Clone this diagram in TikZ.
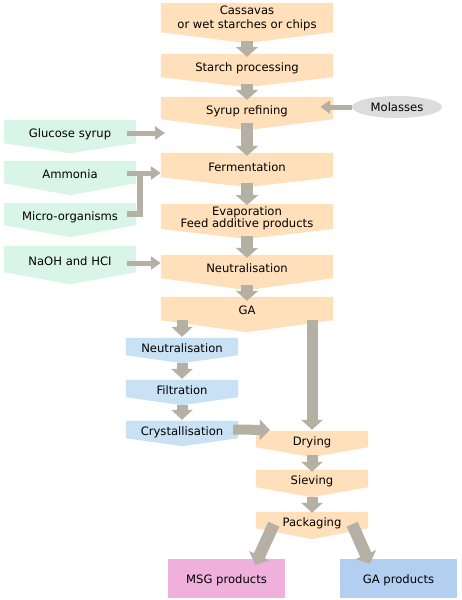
\documentclass[tikz,border=0pt]{standalone}
\usepackage{fontspec}
\setmainfont{DejaVu Sans}
\usetikzlibrary{arrows.meta,calc,shapes.geometric}
\pgfdeclarelayer{background}
\pgfsetlayers{background,main}
\definecolor{orng}{RGB}{255,224,186}
\definecolor{grn}{RGB}{216,245,231}
\definecolor{blu}{RGB}{201,225,245}
\definecolor{molgray}{RGB}{220,220,220}
\definecolor{arrgray}{RGB}{181,176,164}
\definecolor{msgpink}{RGB}{240,176,220}
\definecolor{gablue}{RGB}{178,206,240}
\newcommand{\chevbox}[3]{%
  \begin{pgfonlayer}{background}
    \fill[#3] (#1.north west) -- (#1.north east) -- (#1.south east) -- ($(#1.south)+(0,#2)$) -- (#1.south west) -- cycle;
  \end{pgfonlayer}}
\newcommand{\twoline}[3]{\raisebox{#3}[\height][\depth]{\begin{tabular}{@{}c@{}}#1\\#2\end{tabular}}}
\tikzset{
  boxbase/.style={inner sep=0pt, font=\fontsize{11.6}{14}\selectfont},
  boxnode/.style={boxbase, text height=12pt, text depth=0pt},
  mainbox/.style={boxnode, minimum width=172pt},
  mainboxtwo/.style={boxbase, minimum width=172pt},
  sidebox/.style={boxnode, minimum width=132pt},
  bluebox/.style={boxnode, minimum width=112pt},
  lowbox/.style={boxnode, minimum width=112pt},
  prodbox/.style={boxbase, text height=10pt, text depth=0pt, minimum width=117pt, minimum height=39pt},
  bigarr/.style={draw=arrgray, line width=12pt, -{Triangle[length=10pt,width=22pt]}},
  midarr/.style={draw=arrgray, line width=11pt, -{Triangle[length=10pt,width=21pt]}},
  smallarr/.style={draw=arrgray, line width=5pt, -{Triangle[length=10pt,width=13pt]}},
  smallline/.style={draw=arrgray, line width=6pt, line join=miter}
}
\begin{document}
\begin{tikzpicture}[x=1pt,y=-1pt]
\useasboundingbox (0,0) rectangle (461,600);
% main column
\node[mainboxtwo, minimum height=29pt, font=\fontsize{11.6}{13.5}\selectfont] (cass) at (247,17.5) {\twoline{Cassavas}{or wet starches or chips}{-1.5pt}};
\node[mainbox, minimum height=23pt] (starch) at (247,65.5) {Starch processing};
\node[mainbox, minimum height=22pt] (syrup) at (247,108) {Syrup refining};
\node[mainbox, minimum height=24pt] (ferm) at (247,165) {Fermentation};
\node[mainboxtwo, minimum height=23pt, font=\fontsize{11.6}{11.5}\selectfont] (evap) at (247,216.5) {\twoline{Evaporation}{Feed additive products}{-2.6pt}};
\node[mainbox, minimum height=23pt] (neut) at (247,266.5) {Neutralisation};
\node[mainbox, minimum height=23pt] (ga) at (247,308.5) {GA};
\chevbox{cass}{11}{orng}
\chevbox{starch}{10}{orng}
\chevbox{syrup}{11}{orng}
\chevbox{ferm}{10}{orng}
\chevbox{evap}{10}{orng}
\chevbox{neut}{12}{orng}
\chevbox{ga}{12}{orng}
% side inputs
\node[sidebox, minimum height=23pt] (gluc) at (70,131.5) {Glucose syrup};
\node[sidebox, minimum height=22pt] (amm) at (70,172) {Ammonia};
\node[sidebox, minimum height=22pt] (micro) at (70,214) {Micro-organisms};
\node[sidebox, minimum height=26pt] (naoh) at (70,259) {NaOH and HCI};
\chevbox{gluc}{10}{grn}
\chevbox{amm}{12}{grn}
\chevbox{micro}{12}{grn}
\chevbox{naoh}{12}{grn}
\node[boxbase, text height=8pt, text depth=0pt, ellipse, fill=molgray, minimum width=90pt, minimum height=22pt] (mol) at (397,107) {Molasses};
% blue column
\node[bluebox, minimum height=17pt] (bneut) at (182,346.5) {Neutralisation};
\node[bluebox, minimum height=17pt] (filt) at (182,388.5) {Filtration};
\node[bluebox, minimum height=17pt] (cryst) at (182,429.5) {Crystallisation};
\chevbox{bneut}{8}{blu}
\chevbox{filt}{8}{blu}
\chevbox{cryst}{8}{blu}
% lower column
\node[lowbox, minimum height=16pt] (dry) at (312,439) {Drying};
\node[lowbox, minimum height=17pt] (siev) at (312,478.5) {Sieving};
\node[lowbox, minimum height=16pt] (pack) at (312,520) {Packaging};
\chevbox{dry}{10}{orng}
\chevbox{siev}{10}{orng}
\chevbox{pack}{11}{orng}
% products
\node[prodbox, fill=msgpink] (msg) at (226.5,578.5) {MSG products};
\node[prodbox, fill=gablue] (gaprod) at (398.5,578.5) {GA products};
% arrows main
\draw[bigarr] ($(cass.south)+(0,9)$) -- ($(starch.north)+(0,3)$);
\draw[bigarr] ($(starch.south)+(0,7)$) -- ($(syrup.north)+(0,3)$);
\draw[bigarr] ($(syrup.south)+(0,4)$) -- ($(ferm.north)+(0,3)$);
\draw[bigarr] ($(ferm.south)+(0,6)$) -- ($(evap.north)+(0,1)$);
\draw[bigarr] ($(evap.south)+(0,7)$) -- ($(neut.north)+(0,3)$);
\draw[bigarr] ($(neut.south)+(0,7)$) -- ($(ga.north)+(0,4)$);
\draw[midarr] (bneut.north |- ga.south) -- ($(bneut.north)+(0,-1)$);
\draw[midarr] (dry.north |- ga.south) -- ($(dry.north)+(0,-1)$);
\draw[midarr] ($(bneut.south)+(0,8)$) -- ($(filt.north)+(0,-1)$);
\draw[midarr] ($(filt.south)+(0,8)$) -- ($(cryst.north)+(0,-1)$);
\draw[draw=arrgray, line width=10pt, -{Triangle[length=10pt,width=20pt]}] ($(cryst.east)+(-5,0)$) -- ($(dry.west)+(14,-9)$);
\draw[midarr] ($(dry.south)+(0,8)$) -- ($(siev.north)+(0,2)$);
\draw[midarr] ($(siev.south)+(0,10)$) -- ($(pack.north)+(0,1)$);
\draw[bigarr] ($(pack.south west)+(18,-4)$) -- ($(msg.north east)+(-30,6)$);
\draw[bigarr] ($(pack.south east)+(-16,-4)$) -- ($(gaprod.north west)+(30,5)$);
% side arrows
\coordinate (glucend) at (165,133);
\draw[smallarr] ($(gluc.east)+(-9,1.5)$) -- (glucend);
\draw[smallarr] ($(amm.east)+(-9,1)$) -- (ferm.west |- {$(amm.east)+(0,1)$});
\draw[smallline] ($(micro.east)+(-9,0)$) -| ($(amm.east)+(4,1)$);
\draw[smallarr] ($(naoh.east)+(-9,4)$) -- (neut.west |- {$(naoh.east)+(0,4)$});
\draw[smallarr] (mol.west) -- ($(syrup.east)+(-13,-1)$);
\end{tikzpicture}
\end{document}
